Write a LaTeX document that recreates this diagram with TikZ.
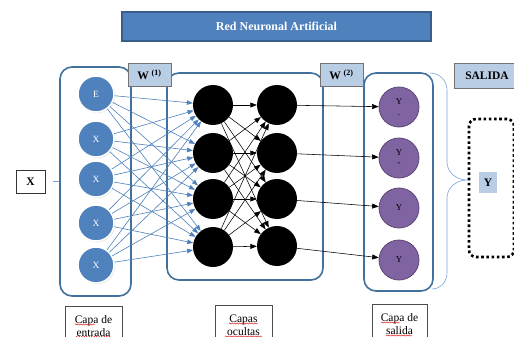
\documentclass[tikz,border=0pt]{standalone}
\usepackage{fontspec}
\setmainfont{Liberation Serif}
\usetikzlibrary{arrows.meta,shadows,decorations.pathmorphing}
\definecolor{capablue}{HTML}{4F81BD}
\definecolor{capaedge}{HTML}{41719C}
\definecolor{tituloedge}{HTML}{385D8A}
\definecolor{pesoblue}{HTML}{B9CDE5}
\definecolor{llavecol}{HTML}{7DA3D6}
\definecolor{salidapurple}{HTML}{8064A2}
\definecolor{salidaedge}{HTML}{5C4776}
\tikzset{
  capa/.style={draw=capaedge, line width=1.6pt, rounded corners=12pt, inner sep=0pt},
  peso/.style={draw=black!55, fill=pesoblue, line width=0.8pt, inner sep=0pt,
    font=\bfseries\fontsize{11.5}{12}\selectfont},
  entrada/.style={circle, fill=capablue, draw=white, line width=1.5pt, minimum size=36pt,
    inner sep=0pt, text=white, font=\fontsize{9.5}{10}\selectfont,
    circular drop shadow={shadow xshift=0.6pt, shadow yshift=-0.6pt, shadow scale=1.06, opacity=0.3}},
  oculta/.style={circle, fill=black, minimum size=40pt, inner sep=0pt},
  salida/.style={circle, fill=salidapurple, draw=salidaedge, line width=0.8pt,
    minimum size=40pt, inner sep=0pt, align=center, font=\fontsize{9}{9}\selectfont},
  etiqueta/.style={draw=black!70, line width=0.6pt, anchor=north, align=center,
    minimum height=40pt, font=\fontsize{11.5}{13}\selectfont},
  azul/.style={draw=capablue, line width=0.6pt, -{Triangle[length=6pt,width=4.5pt]}},
  negra/.style={draw=black, line width=0.55pt, -{Triangle[length=6.5pt,width=5pt]}},
  ortografia/.style={draw=red!85!black, line width=0.45pt,
    decorate, decoration={snake, amplitude=0.6pt, segment length=2.5pt}},
}
\begin{document}
\begin{tikzpicture}[x=1pt,y=-1pt]
  \clip (0,0) rectangle (514,337);
  \fill[white] (0,0) rectangle (514,337);
  % titulo
  \node[fill=capablue, draw=tituloedge, line width=1.2pt, minimum width=309pt, minimum height=29pt,
    text=white, font=\bfseries\fontsize{12}{12}\selectfont] (titulo) at (276.5,26.5) {Red Neuronal Artificial};
  % cajas de capas
  \node[capa, minimum width=71pt, minimum height=229pt] (cajaentrada) at (95.5,181.5) {};
  \node[capa, minimum width=156pt, minimum height=207pt] (cajaoculta) at (245,176.5) {};
  \node[capa, minimum width=69pt, minimum height=218pt] (cajasalida) at (398.5,182) {};
  % pesos
  \node[peso, minimum width=43pt, minimum height=23pt] (w1) at (149.5,74.5) {W~\textsuperscript{(1)}};
  \node[peso, minimum width=43pt, minimum height=23pt] (w2) at (341.5,74.5) {W~\textsuperscript{(2)}};
  \node[peso, minimum width=66pt, minimum height=25pt] (salidatxt) at (487,75.5) {SALIDA};
  % entrada X
  \node[draw=black!80, line width=0.6pt, minimum width=29pt, minimum height=23pt, inner sep=0pt,
    font=\bfseries\fontsize{11.5}{12}\selectfont] (xin) at (30.5,181.5) {X};
  \coordinate (xguia) at (53,181.5);
  \draw[llavecol, line width=0.6pt] (xguia) -- (cajaentrada.west);
  % neuronas
  \node[entrada] (e1) at (96,94) {E};
  \node[entrada] (e2) at (96,139) {X};
  \node[entrada] (e3) at (96,179) {X};
  \node[entrada] (e4) at (96,223) {X};
  \node[entrada] (e5) at (96,265) {X};
  \node[oculta] (h1) at (213,105) {};
  \node[oculta] (h2) at (213,153) {};
  \node[oculta] (h3) at (213,199) {};
  \node[oculta] (h4) at (213,247) {};
  \node[oculta] (k1) at (277,105) {};
  \node[oculta] (k2) at (277,153) {};
  \node[oculta] (k3) at (277,199) {};
  \node[oculta] (k4) at (277,246) {};
  \node[salida] (y1) at (399,107) {Y\\[2pt].};
  \node[salida] (y2) at (399,158) {Y\\[1pt]-};
  \node[salida] (y3) at (399,208) {Y};
  \node[salida] (y4) at (399,260) {Y};
  % conexiones
  \foreach \i in {1,...,5}
    \foreach \j in {1,...,4}
      \draw[azul] (e\i) -- (h\j);
  \foreach \i in {1,...,4}
    \foreach \j in {1,...,4}
      \draw[negra] (h\i) -- (k\j);
  \foreach \i in {1,...,4}
    \draw[negra] (k\i) -- (y\i);
  % llave y salida
  \draw[llavecol, line width=0.6pt] (430,73) to[out=0,in=90] (447,90) -- (447,162)
    to[out=-90,in=180] (467,180) to[out=180,in=90] (447,198) -- (447,273) to[out=-90,in=0] (432,289);
  \node[draw=black, line width=2.6pt, dash pattern=on 2.6pt off 2.6pt, rounded corners=7pt,
    minimum width=45pt, minimum height=138pt] (cajay) at (491.5,188) {};
  \node[fill=pesoblue, minimum width=18pt, minimum height=21pt, inner sep=0pt,
    font=\bfseries\fontsize{11.5}{12}\selectfont] (ysal) at (488,182.5) {Y};
  % etiquetas
  \node[etiqueta, minimum width=57pt] (lentrada) at (93.5,306) {Capa de\\entrada};
  \node[etiqueta, minimum width=57pt] (locultas) at (243.5,305) {Capas\\ocultas};
  \node[etiqueta, minimum width=55pt] (lsalida) at (399.5,304) {Capa de\\salida};
  \draw[ortografia] (75,324.5) -- (95,324.5);
  \draw[ortografia] (76,337) -- (111,337);
  \draw[ortografia] (229,323.5) -- (258,323.5);
  \draw[ortografia] (225,336.5) -- (262,336.5);
  \draw[ortografia] (381,322.5) -- (400,322.5);
  \draw[ortografia] (386,335.5) -- (412,335.5);
\end{tikzpicture}
\end{document}
